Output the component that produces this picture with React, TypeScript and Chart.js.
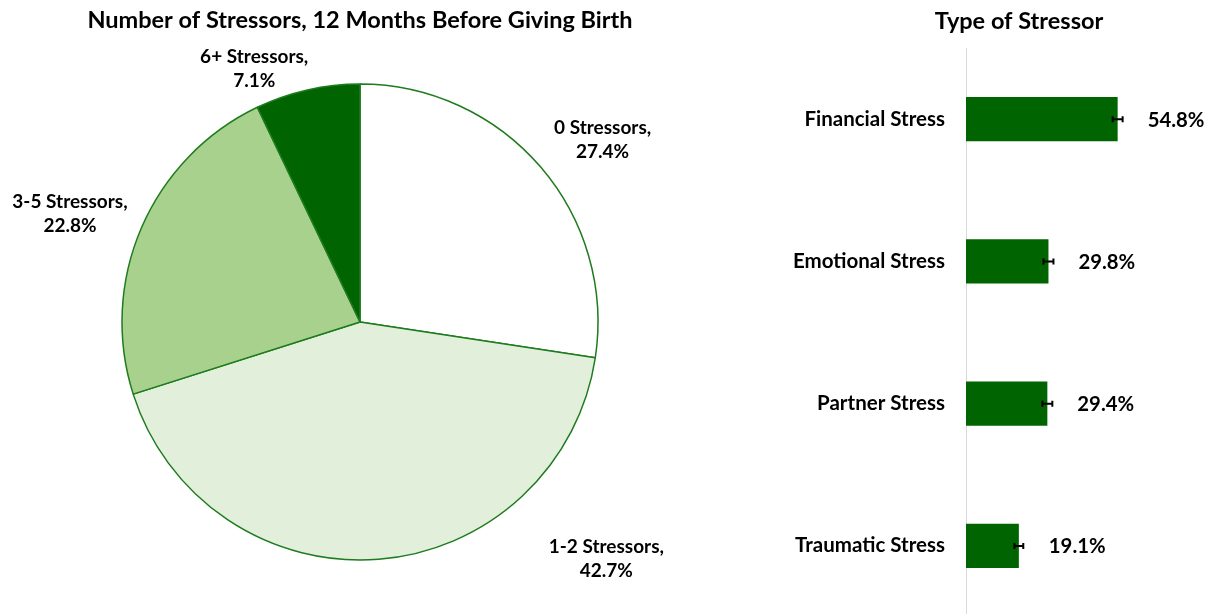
import React, { useEffect, useRef } from "react";
import { Chart, registerables } from "chart.js";

Chart.register(...registerables);

const pieTitle = "Number of Stressors, 12 Months Before Giving Birth";
const pieLabels = ["0 Stressors", "1-2 Stressors", "3-5 Stressors", "6+ Stressors"];
const pieValues = [27.4, 42.7, 22.8, 7.1];
const pieColors = ["#ffffff", "#e2efda", "#a9d18e", "#006400"];

const barTitle = "Type of Stressor";
const barCategories = ["Financial Stress", "Emotional Stress", "Partner Stress", "Traumatic Stress"];
const barValues = [54.8, 29.8, 29.4, 19.1];
const barErrors = [1.8, 1.8, 1.8, 1.6];

const FONT = "Lato, 'Open Sans', sans-serif";

const pieLabelPlugin = {
  id: "pieLabels",
  afterDatasetsDraw(chart: any, _args: any, opts: any) {
    const ctx = chart.ctx;
    const meta = chart.getDatasetMeta(0);
    ctx.save();
    ctx.font = `bold ${opts.size}px ${FONT}`;
    ctx.fillStyle = "#000";
    ctx.textAlign = "center";
    ctx.textBaseline = "middle";
    meta.data.forEach((arc: any, i: number) => {
      const mid = (arc.startAngle + arc.endAngle) / 2;
      const r = arc.outerRadius * opts.factor;
      const off = opts.offsets[i] || [0, 0];
      const x = arc.x + Math.cos(mid) * r + off[0];
      const y = arc.y + Math.sin(mid) * r + off[1];
      ctx.fillText(`${pieLabels[i]},`, x, y - opts.lineHeight / 2);
      ctx.fillText(`${pieValues[i].toFixed(1)}%`, x, y + opts.lineHeight / 2);
    });
    ctx.restore();
  },
};

const barExtrasPlugin = {
  id: "barExtras",
  afterDatasetsDraw(chart: any, _args: any, opts: any) {
    const ctx = chart.ctx;
    const meta = chart.getDatasetMeta(0);
    const xs = chart.scales.x;
    ctx.save();
    ctx.strokeStyle = "#000";
    ctx.lineWidth = 2;
    meta.data.forEach((bar: any, i: number) => {
      const v = barValues[i];
      const e = barErrors[i];
      const x1 = xs.getPixelForValue(v - e);
      const x2 = xs.getPixelForValue(v + e);
      const y = bar.y;
      ctx.beginPath();
      ctx.moveTo(x1, y);
      ctx.lineTo(x2, y);
      ctx.moveTo(x1, y - 3);
      ctx.lineTo(x1, y + 3);
      ctx.moveTo(x2, y - 3);
      ctx.lineTo(x2, y + 3);
      ctx.stroke();
    });
    ctx.fillStyle = "#000";
    ctx.font = `bold ${opts.size}px ${FONT}`;
    ctx.textAlign = "left";
    ctx.textBaseline = "middle";
    meta.data.forEach((bar: any, i: number) => {
      ctx.fillText(`${barValues[i].toFixed(1)}%`, bar.x + opts.gap, bar.y + 1);
    });
    ctx.font = `bold ${opts.titleSize}px ${FONT}`;
    ctx.textAlign = "center";
    ctx.fillText(barTitle, opts.titleX, opts.titleY);
    ctx.restore();
  },
};

export default function App() {
  const pieRef = useRef<HTMLCanvasElement>(null);
  const barRef = useRef<HTMLCanvasElement>(null);

  useEffect(() => {
    const pie = new Chart(pieRef.current!, {
      type: "pie",
      data: {
        labels: pieLabels,
        datasets: [
          {
            data: pieValues,
            backgroundColor: pieColors,
            borderColor: "#1e7b1e",
            borderWidth: 1.5,
            hoverOffset: 0,
            offset: 0,
          },
        ],
      },
      options: {
        responsive: false,
        animation: false,
        radius: 238,
        layout: { padding: { top: 0, bottom: 54, left: 0, right: 0 } },
        plugins: {
          legend: { display: false },
          tooltip: { enabled: false },
          title: {
            display: true,
            text: pieTitle,
            color: "#000",
            font: { family: FONT, size: 23.5, weight: "bold", lineHeight: 1.2 },
            padding: { top: 6, bottom: 49.8 },
          },
          pieLabels: {
            size: 19,
            lineHeight: 24,
            factor: 1.25,
            offsets: [
              [17, 12],
              [223, -60],
              [-17, 10],
              [-40, 37],
            ],
          },
        },
      } as any,
      plugins: [pieLabelPlugin],
    });

    const bar = new Chart(barRef.current!, {
      type: "bar",
      data: {
        labels: barCategories,
        datasets: [
          {
            data: barValues,
            backgroundColor: "#006400",
            borderWidth: 0,
            categoryPercentage: 1,
            barPercentage: 0.31,
          },
        ],
      },
      options: {
        responsive: false,
        animation: false,
        indexAxis: "y",
        layout: { padding: { top: 48, bottom: 13, right: 23, left: 0 } },
        scales: {
          x: { display: false, min: 0, max: 79.5 },
          y: {
            afterFit(scale: any) {
              scale.width = 246;
            },
            grid: {
              display: true,
              color: "transparent",
              drawTicks: true,
              tickLength: 21,
              tickColor: "transparent",
            },
            border: { display: true, color: "#d9d9d9", width: 1 },
            ticks: {
              color: "#000",
              padding: 0,
              font: { family: FONT, size: 20.5, weight: "bold" },
            },
          },
        },
        plugins: {
          legend: { display: false },
          tooltip: { enabled: false },
          title: { display: false },
          barExtras: { size: 20.3, gap: 30, titleSize: 23.5, titleX: 299, titleY: 21 },
        },
      } as any,
      plugins: [barExtrasPlugin],
    });

    return () => {
      pie.destroy();
      bar.destroy();
    };
  }, []);

  return (
    <div
      style={{
        position: "fixed",
        left: 0,
        top: 0,
        width: 1209,
        height: 614,
        overflow: "hidden",
        background: "#fff",
      }}
    >
      <canvas
        ref={pieRef}
        width={720}
        height={614}
        style={{ position: "absolute", left: 0, top: 0 }}
      />
      <canvas
        ref={barRef}
        width={489}
        height={630}
        style={{ position: "absolute", left: 720, top: 0 }}
      />
    </div>
  );
}
